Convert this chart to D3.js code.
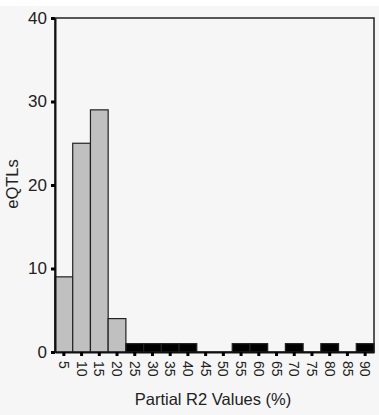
<!DOCTYPE html>
<html>
<head>
<meta charset="utf-8">
<script src="https://cdn.jsdelivr.net/npm/d3@7"></script>
<style>
  html, body { margin: 0; padding: 0; background: #f6f6f6; }
  svg { display: block; font-family: Arial, "Liberation Sans", sans-serif; }
</style>
</head>
<body>
<div id="root"></div>
<script>
// ——— données
const bins = [5, 10, 15, 20, 25, 30, 35, 40, 45, 50, 55, 60, 65, 70, 75, 80, 85, 90];
const counts = [9, 25, 29, 4, 1, 1, 1, 1, 0, 0, 1, 1, 0, 1, 0, 1, 0, 1];
const yTicks = [0, 10, 20, 30, 40];

const width = 379, height = 415;
const margin = { top: 18, right: 5, bottom: 63, left: 55 };
const innerW = width - margin.left - margin.right;
const innerH = height - margin.top - margin.bottom;

const svg = d3.select("#root").append("svg")
  .attr("width", width).attr("height", height);

// bande blanche en haut
svg.append("rect").attr("width", width).attr("height", 6).attr("fill", "#fff");

const g = svg.append("g").attr("transform", `translate(${margin.left},${margin.top})`);

const x = d3.scaleBand().domain(bins).range([0, innerW]).padding(0);
const y = d3.scaleLinear().domain([0, 40]).range([innerH, 0]);

// cadre
g.append("rect")
  .attr("width", innerW).attr("height", innerH)
  .attr("fill", "none").attr("stroke", "#222").attr("stroke-width", 1.5);

// barres
const items = bins.map((b, i) => ({ bin: b, v: counts[i] }));
g.selectAll(".bar")
  .data(items.filter(d => d.v > 0))
  .enter().append("rect")
  .attr("class", "bar")
  .attr("x", d => x(d.bin))
  .attr("width", x.bandwidth())
  .attr("y", d => y(d.v))
  .attr("height", d => y(0) - y(d.v))
  .attr("fill", d => d.v <= 1 ? "#000" : "#c0c0c0")
  .attr("stroke", "#222")
  .attr("stroke-width", 1.2);

// axe y
const yAxis = g.append("g")
  .call(d3.axisLeft(y).tickValues(yTicks).tickSize(0).tickPadding(8));
yAxis.select(".domain").attr("stroke", "#111").attr("stroke-width", 2);
yAxis.selectAll(".tick text").attr("font-size", 17).attr("fill", "#222");
yAxis.selectAll(".tick").append("rect")
  .attr("x", -4).attr("y", -1.5).attr("width", 4).attr("height", 3).attr("fill", "#000");

// axe x
const xAxis = g.append("g")
  .attr("transform", `translate(0,${innerH})`)
  .call(d3.axisBottom(x).tickSize(0).tickPadding(0));
xAxis.select(".domain").attr("stroke", "#111").attr("stroke-width", 2);
xAxis.selectAll(".tick").append("rect")
  .attr("x", -1.5).attr("y", 0).attr("width", 3).attr("height", 4).attr("fill", "#000");
xAxis.selectAll(".tick text")
  .attr("font-size", 14).attr("fill", "#222")
  .attr("transform", "rotate(90)")
  .attr("x", 9).attr("y", 0).attr("dy", "0.35em")
  .attr("text-anchor", "start");

// titres d'axes
svg.append("text")
  .attr("x", 213).attr("y", 405)
  .attr("text-anchor", "middle").attr("font-size", 16.5).attr("fill", "#222")
  .text("Partial R2 Values (%)");

svg.append("text")
  .attr("transform", "translate(18,184) rotate(-90)")
  .attr("text-anchor", "middle").attr("font-size", 16.5).attr("fill", "#222")
  .text("eQTLs");
</script>
</body>
</html>
